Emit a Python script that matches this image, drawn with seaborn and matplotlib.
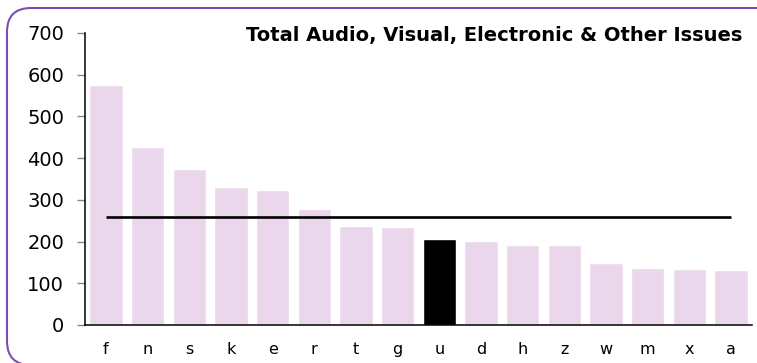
import matplotlib
matplotlib.use("Agg")
import matplotlib.pyplot as plt
from matplotlib.patches import FancyBboxPatch
from matplotlib.transforms import IdentityTransform
import numpy as np
import pandas as pd
import seaborn as sns

# values
categories = ["f", "n", "s", "k", "e", "r", "t", "g", "u", "d", "h", "z", "w", "m", "x", "a"]
issues = [575, 427, 375, 332, 324, 277, 237, 234, 206, 202, 192, 191, 149, 137, 135, 132]
highlight = "u"
title = "Total Audio, Visual, Electronic & Other Issues"

df = pd.DataFrame({"cat": categories, "val": issues})
mean_val = np.mean(issues)

bar_col = "#ebd7eb"
palette = {c: ("#000000" if c == highlight else bar_col) for c in categories}

sns.set_style("white")
plt.rcParams["font.family"] = ["DejaVu Sans"]
plt.rcParams["text.color"] = "black"
plt.rcParams["xtick.labelcolor"] = "black"
plt.rcParams["ytick.labelcolor"] = "black"

fig = plt.figure(figsize=(7.57, 3.63), dpi=100)
ax = fig.add_axes([85 / 757, 1 - 325 / 363, 667 / 757, 292 / 363])

sns.barplot(data=df, x="cat", y="val", hue="cat", palette=palette,
            width=0.8, legend=False, saturation=1, ax=ax)

#mean line from first to last bar centre
ax.hlines(mean_val, 0, len(categories) - 1, color="black", lw=1.9, zorder=5)

ax.set_xlim(-0.5, len(categories) - 0.5)
ax.set_ylim(0, 700)
ax.set_yticks(range(0, 701, 100))
ax.set_xlabel("")
ax.set_ylabel("")

for s in ["top", "right"]:
    ax.spines[s].set_visible(False)
ax.spines["left"].set_color("black")
ax.spines["bottom"].set_color("black")
ax.spines["left"].set_linewidth(1.1)
ax.spines["bottom"].set_linewidth(1.1)

ax.tick_params(axis="y", length=6, color="#888888", width=1, labelsize=14, pad=9, left=True)
ax.tick_params(axis="x", length=0, labelsize=11.5, pad=12)

fig.text(742 / 757, 1 - 35 / 363, title, ha="right", va="center",
         fontsize=14, fontweight="bold", color="black")

# rounded purple frame, display coords (origin bottom-left)
frame = FancyBboxPatch((7, -2), 790, 363 - 8 + 2, boxstyle="round,pad=0,rounding_size=24",
                       fill=False, edgecolor="#7b4fb0", lw=1.5, clip_on=False)
frame.set_transform(IdentityTransform())
fig.patches.append(frame)

fig.savefig("out.png", dpi=100)
